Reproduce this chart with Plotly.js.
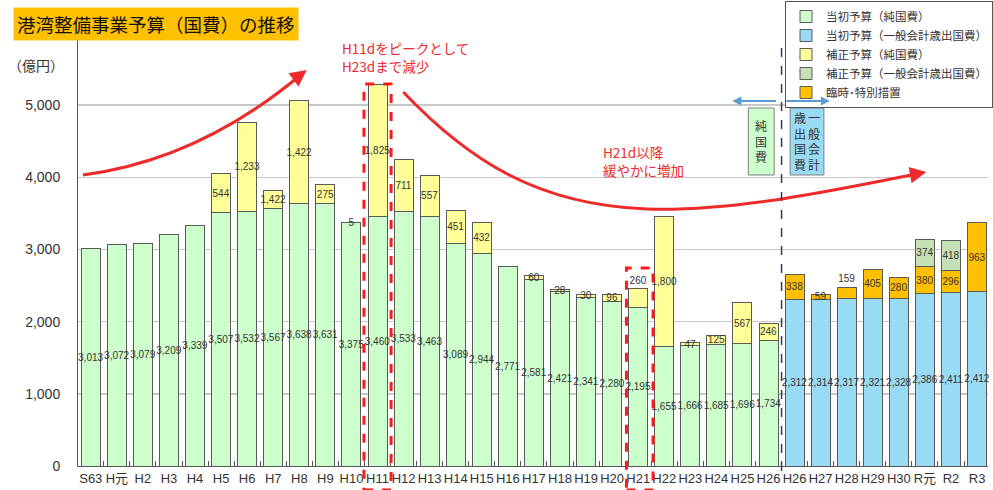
<!DOCTYPE html>
<html><head><meta charset="utf-8">
<script src="https://cdn.plot.ly/plotly-3.0.1.min.js"></script>
<style>html,body{margin:0;padding:0;background:#fff}#chart{width:993px;height:490px}</style>
</head><body><div id="chart"></div>
<script>
// ---- data ----
const categories = ['S63','H元','H2','H3','H4','H5','H6','H7','H8','H9','H10','H11','H12','H13','H14','H15','H16','H17','H18','H19','H20','H21','H22','H23','H24','H25','H26','H26','H27','H28','H29','H30','R元','R2','R3'];
// 当初予算(純国費)
const initialNet = [3013,3072,3079,3209,3339,3507,3532,3567,3638,3631,3375,3460,3533,3463,3089,2944,2771,2581,2421,2341,2280,2195,1655,1666,1685,1696,1734,null,null,null,null,null,null,null,null];
// 補正予算(純国費)
const supplNet = [null,null,null,null,null,544,1233,256,1422,275,5,1825,711,557,451,432,null,60,28,30,96,260,1800,47,125,567,246,null,null,null,null,null,null,null,null];
const supplNetLabels = ['','','','','','544','1,233','1,422','1,422','275','5','1,825','711','557','451','432','','60','28','30','96','260','1,800','47','125','567','246','','','','','','','',''];
// 当初予算(一般会計歳出国費)
const initialGen = [null,null,null,null,null,null,null,null,null,null,null,null,null,null,null,null,null,null,null,null,null,null,null,null,null,null,null,2312,2314,2317,2321,2328,2386,2411,2412];
// 臨時・特別措置
const special = [null,null,null,null,null,null,null,null,null,null,null,null,null,null,null,null,null,null,null,null,null,null,null,null,null,null,null,338,59,159,405,280,380,296,963];
// 補正予算(一般会計歳出国費)
const supplGen = [null,null,null,null,null,null,null,null,null,null,null,null,null,null,null,null,null,null,null,null,null,null,null,null,null,null,null,null,null,null,null,null,374,418,null];
const seriesNames = ['当初予算（純国費）','当初予算（一般会計歳出国費）','補正予算（純国費）','補正予算（一般会計歳出国費）','臨時･特別措置'];
const yTicks = [0,1000,2000,3000,4000,5000,6000];

// ---- styles ----
const FONT = 'Liberation Sans, Arial, Noto Sans CJK JP, sans-serif';
const JFONT = 'Noto Sans CJK JP, Liberation Sans, sans-serif';
const C_GREEN = '#ccffcc', C_BLUE = '#99daf4', C_YELLOW = '#ffff99', C_ORANGE = '#ffc000', C_GG = '#c5e0b4';
const RED = '#ee2a2a';

const x = categories.map((_, i) => i);
const fmt = v => (v == null ? '' : v.toLocaleString('en-US'));

function bar(name, vals, color, text, pos, rank) {
  return {
    type: 'bar', name: name, x: x, y: vals, legendrank: rank,
    marker: {color: color, line: {color: '#5a5a5a', width: 1}},
    text: text, textposition: pos, insidetextanchor: 'middle', textangle: 0, constraintext: 'none',
    textfont: {family: FONT, size: 10, color: '#333'},
    cliponaxis: false, hoverinfo: 'skip'
  };
}
const posYellow = supplNet.map((v, i) => (i === 21 ? 'outside' : 'inside'));
const posOrange = special.map((v, i) => (i === 29 ? 'outside' : 'inside'));

const data = [
  bar(seriesNames[0], initialNet, C_GREEN, initialNet.map(fmt), 'inside', 1),
  bar(seriesNames[1], initialGen, C_BLUE, initialGen.map(fmt), 'inside', 2),
  bar(seriesNames[2], supplNet, C_YELLOW, supplNetLabels, posYellow, 3),
  bar(seriesNames[4], special, C_ORANGE, special.map(fmt), posOrange, 5),
  bar(seriesNames[3], supplGen, C_GG, supplGen.map(fmt), 'inside', 4)
];

// pixel -> paper helpers for decorations
const L = 78, W = 915, T = 33, H = 433;
const px = p => (p - L) / W;
const py = p => (T + H - p) / H;
const P = (a, b) => px(a).toFixed(4) + ',' + py(b).toFixed(4);

const shapes = [
  {type: 'path', xref: 'paper', yref: 'paper', path: 'M ' + P(83,175) + ' Q ' + P(200,160) + ' ' + P(303,74), line: {color: RED, width: 3}},
  {type: 'path', xref: 'paper', yref: 'paper', path: 'M ' + P(405,92) + ' C ' + P(470,160) + ' ' + P(540,205) + ' ' + P(650,209) + ' C ' + P(740,212) + ' ' + P(850,188) + ' ' + P(926,173), line: {color: RED, width: 3}},
  {type: 'rect', xref: 'x', yref: 'paper', x0: 10.48, x1: 11.52, y0: py(490), y1: py(84), line: {color: '#ff1a1a', width: 3, dash: 'dash'}},
  {type: 'rect', xref: 'x', yref: 'paper', x0: 20.55, x1: 21.57, y0: py(490), y1: py(268), line: {color: '#ff1a1a', width: 3, dash: 'dash'}},
  {type: 'line', xref: 'x', yref: 'paper', x0: 26.5, x1: 26.5, y0: py(471), y1: py(45), line: {color: '#2f3b55', width: 1.5, dash: 'dash'}},
  {type: 'rect', xref: 'paper', yref: 'paper', x0: px(752), x1: px(778), y0: py(175), y1: py(108), fillcolor: C_GREEN, line: {color: '#808080', width: 1}},
  {type: 'rect', xref: 'paper', yref: 'paper', x0: px(794), x1: px(828), y0: py(175), y1: py(108), fillcolor: C_BLUE, line: {color: '#808080', width: 1}}
];

const ann = (o) => Object.assign({xref: 'paper', yref: 'paper', xanchor: 'center', yanchor: 'middle', showarrow: false}, o);
const annotations = [
  ann({x: px(13), y: py(7), xanchor: 'left', yanchor: 'top',
   text: '港湾整備事業予算（国費）の推移', font: {family: JFONT, size: 18.5, color: '#111'}, bgcolor: C_ORANGE, borderpad: 3}),
  ann({x: px(36), y: py(65), text: '（億円）', font: {family: JFONT, size: 14, color: '#333'}}),
  ann({x: px(341), y: py(36), xanchor: 'left', yanchor: 'top', align: 'left',
   text: 'H11dをピークとして<br>H23dまで減少', font: {family: JFONT, size: 13.5, color: RED}}),
  ann({x: px(604), y: py(140), xanchor: 'left', yanchor: 'top', align: 'left',
   text: 'H21d以降<br>緩やかに増加', font: {family: JFONT, size: 13.5, color: RED}}),
  ann({x: px(308), y: py(70), text: '', showarrow: true, arrowhead: 2, arrowsize: 1.1, arrowwidth: 3, arrowcolor: RED, ax: -12, ay: 9}),
  ann({x: px(931), y: py(172), text: '', showarrow: true, arrowhead: 2, arrowsize: 1.1, arrowwidth: 3, arrowcolor: RED, ax: -16, ay: 3}),
  ann({x: px(736), y: py(101), text: '', showarrow: true, arrowhead: 2, arrowsize: 1, arrowwidth: 1.8, arrowcolor: '#5b9bd5', ax: 45, ay: 0}),
  ann({x: px(834), y: py(101), text: '', showarrow: true, arrowhead: 2, arrowsize: 1, arrowwidth: 1.8, arrowcolor: '#5b9bd5', ax: -45, ay: 0}),
  ann({x: px(765), y: py(141), text: '純<br>国<br>費', font: {family: JFONT, size: 12, color: '#333'}}),
  ann({x: px(803.5), y: py(141), text: '歳<br>出<br>国<br>費', font: {family: JFONT, size: 12, color: '#333'}}),
  ann({x: px(818.5), y: py(141), text: '一<br>般<br>会<br>計', font: {family: JFONT, size: 12, color: '#333'}})
];

const layout = {
  width: 993, height: 490,
  margin: {l: L, r: 993 - L - W, t: T, b: 490 - T - H, pad: 0},
  paper_bgcolor: '#fff', plot_bgcolor: '#fff',
  barmode: 'stack', bargap: 0.27,
  font: {family: FONT, size: 12, color: '#333'},
  showlegend: true,
  legend: {x: px(789), y: py(1), xanchor: 'left', yanchor: 'top', bgcolor: '#fff', bordercolor: '#555', borderwidth: 1,
           font: {family: JFONT, size: 11.5, color: '#333'}, itemwidth: 30, traceorder: 'normal', tracegroupgap: 0},
  xaxis: {range: [-0.49, 34.42], tickmode: 'array', tickvals: x, ticktext: categories, ticks: '',
          showgrid: false, zeroline: false, showline: true, linecolor: '#555', linewidth: 1,
          tickfont: {family: FONT, size: 13, color: '#333'},
          minor: {tick0: -0.5, dtick: 1, ticks: 'inside', ticklen: 5, tickcolor: '#555', tickwidth: 1, showgrid: false},
          fixedrange: true},
  yaxis: {range: [0, 6000], tickmode: 'array', tickvals: yTicks, tickformat: ',', ticks: '',
          showgrid: true, gridcolor: '#c8c8c8', gridwidth: 1.5, zeroline: false, showline: true, linecolor: '#555', linewidth: 1,
          ticklabelstandoff: 14, tickfont: {family: FONT, size: 14, color: '#333'}, fixedrange: true},
  shapes: shapes,
  annotations: annotations
};

Plotly.newPlot('chart', data, layout, {displayModeBar: false, staticPlot: true});
</script>
</body></html>
